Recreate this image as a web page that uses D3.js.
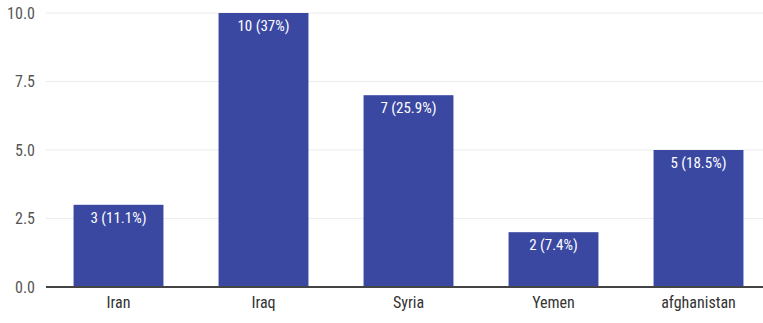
<!DOCTYPE html>
<html>
<head>
<meta charset="utf-8">
<script src="https://cdn.jsdelivr.net/npm/d3@7"></script>
<style>
  body { margin: 0; background: #fff; }
  svg { display: block; font-family: "Liberation Sans Narrow", "Roboto Condensed", Roboto, sans-serif; }
</style>
</head>
<body>
<svg id="chart" width="763" height="323"></svg>
<script>
// data
const countries = ['Iran', 'Iraq', 'Syria', 'Yemen', 'afghanistan'];
const counts = [3, 10, 7, 2, 5];
const shares = ['11.1%', '37%', '25.9%', '7.4%', '18.5%'];
const yTicks = [0, 2.5, 5, 7.5, 10];

const svg = d3.select('svg#chart');
const font = '"Liberation Sans Narrow", "Roboto Condensed", Roboto, sans-serif';

const margin = { top: 13, left: 46, bottom: 36 };
const plotBottom = 323 - margin.bottom;

const x = d3.scaleBand()
    .domain(countries)
    .range([margin.left, 771])
    .paddingInner(0.38)
    .paddingOuter(0.19);

const y = d3.scaleLinear()
    .domain([0, 10])
    .range([plotBottom, margin.top]);

// gridlines
svg.append('g').selectAll('line')
    .data(yTicks.filter(d => d > 0))
    .join('line')
    .attr('x1', margin.left)
    .attr('x2', 763)
    .attr('y1', d => y(d))
    .attr('y2', d => y(d))
    .attr('stroke', '#ececec')
    .attr('stroke-width', 1);

// y tick labels
const yaxis = svg.append('g')
    .attr('transform', 'translate(' + (margin.left - 11) + ',0)')
    .call(d3.axisLeft(y).tickValues(yTicks).tickFormat(d3.format('.1f')).tickSize(0));
yaxis.select('.domain').remove();
yaxis.selectAll('text')
    .attr('fill', '#555')
    .attr('font-size', 16)
    .attr('font-family', font)
    .attr('x', 0);

// bars
const bars = svg.append('g').selectAll('g.bar')
    .data(countries.map((c, i) => ({ c: c, n: counts[i], p: shares[i] })))
    .join('g')
    .classed('bar', true);

bars.append('rect')
    .attr('x', d => x(d.c))
    .attr('width', x.bandwidth())
    .attr('y', d => y(d.n))
    .attr('height', d => plotBottom - y(d.n))
    .attr('fill', '#3a48a2');

bars.append('text')
    .attr('x', d => x(d.c) + x.bandwidth() / 2)
    .attr('y', d => y(d.n) + 18)
    .attr('text-anchor', 'middle')
    .attr('fill', '#fff')
    .attr('font-size', 15)
    .attr('font-family', font)
    .text(d => d.n + ' (' + d.p + ')');

// baseline
svg.append('line')
    .attr('x1', margin.left)
    .attr('x2', 763)
    .attr('y1', plotBottom)
    .attr('y2', plotBottom)
    .attr('stroke', '#444')
    .attr('stroke-width', 2);

// x labels
const xaxis = svg.append('g')
    .attr('transform', 'translate(0,' + plotBottom + ')')
    .call(d3.axisBottom(x).tickSize(0).tickPadding(10));
xaxis.select('.domain').remove();
xaxis.selectAll('text')
    .attr('fill', '#333')
    .attr('font-size', 16)
    .attr('font-family', font);
</script>
</body>
</html>
